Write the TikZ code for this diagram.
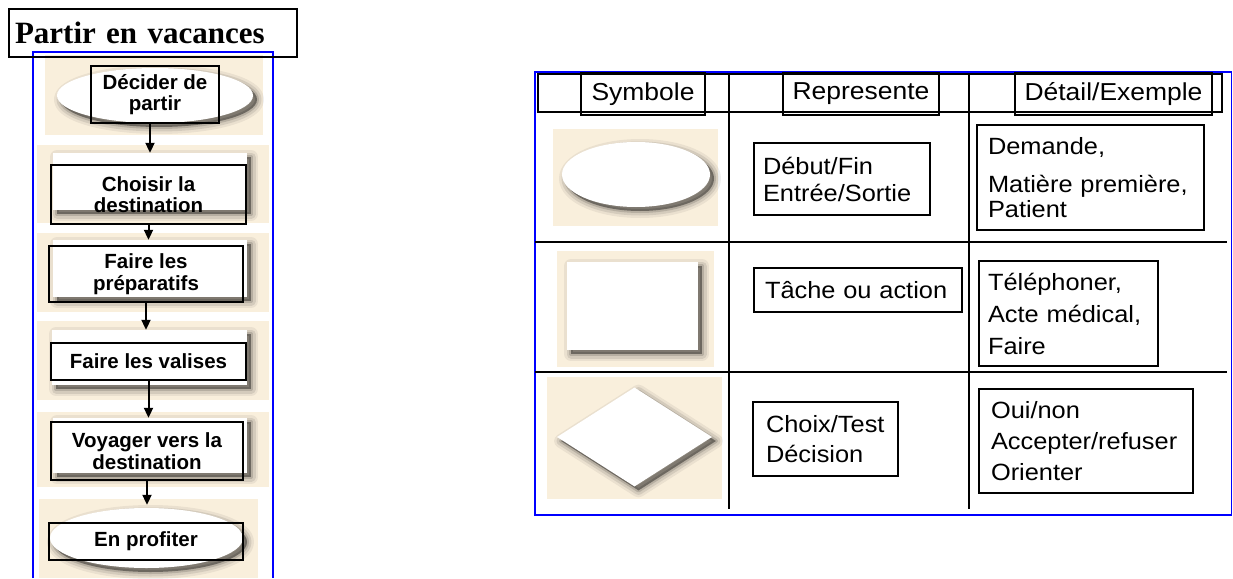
\documentclass[tikz,border=0pt]{standalone}
\usepackage{fontspec}
\setmainfont{Liberation Serif}
\newfontfamily\flowfont{Liberation Sans}
\newfontfamily\tabfont[FakeStretch=1.08]{Liberation Sans}
\usetikzlibrary{shapes.geometric,shadows,arrows.meta}
\definecolor{cream}{RGB}{249,239,220}
\definecolor{frameblue}{RGB}{0,0,255}

\tikzset{
  softshadow/.style={
    drop shadow={shadow xshift=4pt,shadow yshift=-4pt,fill=none,draw=black,opacity=1,draw opacity=0.06,line width=14pt,line join=round},
    drop shadow={shadow xshift=4pt,shadow yshift=-4pt,fill=none,draw=black,opacity=1,draw opacity=0.09,line width=9pt,line join=round},
    drop shadow={shadow xshift=4pt,shadow yshift=-4pt,fill=none,draw=black,opacity=1,draw opacity=0.14,line width=4pt,line join=round},
    drop shadow={shadow xshift=4pt,shadow yshift=-4pt,fill=black,fill opacity=0.40,draw=none}
  },
  whiteshape/.style={fill=white,draw=none,inner sep=0pt,softshadow},
  flowbox/.style={draw=black,line width=1.8pt,inner sep=0pt,align=center,
    font=\flowfont\bfseries\fontsize{20.5}{21.5}\selectfont},
  flowarrow/.style={draw=black,line width=2pt,-{Triangle[length=10pt,width=9pt]}},
  tabbox/.style={draw=black,line width=1.8pt,inner ysep=0pt,align=left,
    font=\tabfont\fontsize{23.5}{30}\selectfont},
  headbox/.style={draw=black,line width=1.8pt,inner sep=0pt,
    font=\tabfont\fontsize{24.5}{28}\selectfont},
  tabline/.style={draw=black,line width=1.8pt},
  blueframe/.style={draw=frameblue,line width=1.3pt}
}

\begin{document}
\begin{tikzpicture}[x=1pt,y=-1pt]
\useasboundingbox (0,0) rectangle (1233,578);

% ---------- flow chart: cream backgrounds ----------
\fill[cream] (45,55) rectangle (263,135);
\fill[cream] (37,145) rectangle (269,223);
\fill[cream] (37,233) rectangle (269,312);
\fill[cream] (37,321) rectangle (269,400);
\fill[cream] (37,412) rectangle (269,487);
\fill[cream] (39,499) rectangle (258,578);

% white shapes with soft shadows
\node[whiteshape,ellipse,minimum width=196pt,minimum height=55pt] (s1) at (155,95.5) {};
\node[whiteshape,rectangle,minimum width=194pt,minimum height=57pt] (s2) at (150,181.5) {};
\node[whiteshape,rectangle,minimum width=194pt,minimum height=57pt] (s3) at (150,268.5) {};
\node[whiteshape,rectangle,minimum width=195pt,minimum height=55pt] (s4) at (149.5,357.5) {};
\node[whiteshape,rectangle,minimum width=194pt,minimum height=55pt] (s5) at (150,445.5) {};
\node[whiteshape,ellipse,minimum width=193pt,minimum height=60pt] (s6) at (146.5,538) {};

% labelled boxes
\node[flowbox,minimum width=128pt,minimum height=57pt] (b1) at (155,94.5) {Décider de\\partir};
\node[flowbox,minimum width=195pt,minimum height=59pt] (b2) at (148.5,194.5) {Choisir la\\destination};
\node[flowbox,minimum width=194pt,minimum height=56pt] (b3) at (146,274) {Faire les\\préparatifs};
\node[flowbox,minimum width=195pt,minimum height=37pt] (b4) at (148.5,361.5) {Faire les valises};
\node[flowbox,minimum width=192pt,minimum height=58pt] (b5) at (147,451) {Voyager vers la\\destination};
\node[flowbox,minimum width=194pt,minimum height=37pt] (b6) at (146,541.5) {En profiter};

% arrows
\draw[flowarrow] (b1.south -| s2.north) -- (s2.north);
\draw[flowarrow] (b2.south) -- (b2.south |- s3.north);
\draw[flowarrow] (b3.south) -- (b3.south |- s4.north);
\draw[flowarrow] (b4.south) -- (b4.south |- s5.north);
\draw[flowarrow] (b5.south) -- ([yshift=3pt]b5.south |- s6.north);

% frame and title
\draw[blueframe] (33,578) -- (33,52) -- (273,52) -- (273,578);
\node[draw=black,line width=1.8pt,text width=276pt,minimum height=48pt,inner xsep=6pt,inner ysep=0pt,
      align=left,font=\bfseries\fontsize{31}{36}\selectfont] (title) at (153,33) {Partir en vacances};

% ---------- legend table ----------
\draw[blueframe] (535,72) rectangle (1231.5,515);
\fill[cream] (553,129) rectangle (718,226);
\fill[cream] (557,251) rectangle (714,367);
\fill[cream] (547,377) rectangle (722,499);

\node[whiteshape,ellipse,minimum width=148pt,minimum height=65pt] (e1) at (636,174.5) {};
\node[whiteshape,rectangle,minimum width=131pt,minimum height=88pt] (r2) at (632.5,306) {};
\node[whiteshape,diamond,minimum width=155pt,minimum height=99pt] (d3) at (634.5,437) {};

% header and rules
\draw[tabline] (538,74) rectangle (1222,112);
\draw[tabline] (729,74) -- (729,509);
\draw[tabline] (969,74) -- (969,509);
\draw[tabline] (535,242) -- (1227,242);
\draw[tabline] (535,372) -- (1227,372);

\node[headbox,minimum width=124pt,minimum height=42pt] (h1) at (643,94) {Symbole};
\node[headbox,minimum width=156pt,minimum height=42pt] (h2) at (861,94) {Represente};
\node[headbox,minimum width=197pt,minimum height=42pt] (h3) at (1113.5,94) {Détail/Exemple};

% cell texts
\node[tabbox,inner xsep=9pt,text width=158pt,minimum height=72pt,
      font=\tabfont\fontsize{23.5}{27}\selectfont] (t1) at (842,179) {Début/Fin\\Entrée/Sortie};
\node[tabbox,inner xsep=11pt,text width=205pt,minimum height=105pt,
      font=\tabfont\fontsize{23.5}{25}\selectfont] (x1) at (1090.5,177.5) {Demande,\\[13pt]Matière première,\\Patient};
\node[tabbox,inner xsep=11pt,text width=186pt,minimum height=44pt] (t2) at (858,290) {Tâche ou action};
\node[tabbox,inner xsep=9pt,text width=161pt,minimum height=105pt,
      font=\tabfont\fontsize{23.5}{32}\selectfont] (x2) at (1068.5,313.5) {Téléphoner,\\Acte médical,\\Faire};
\node[tabbox,inner xsep=13pt,text width=119pt,minimum height=74pt] (t3) at (825.5,439) {Choix/Test\\Décision};
\node[tabbox,inner xsep=12pt,text width=190pt,minimum height=104pt,
      font=\tabfont\fontsize{23.5}{31}\selectfont] (x3) at (1086,441) {Oui/non\\Accepter/refuser\\Orienter};
\end{tikzpicture}
\end{document}
